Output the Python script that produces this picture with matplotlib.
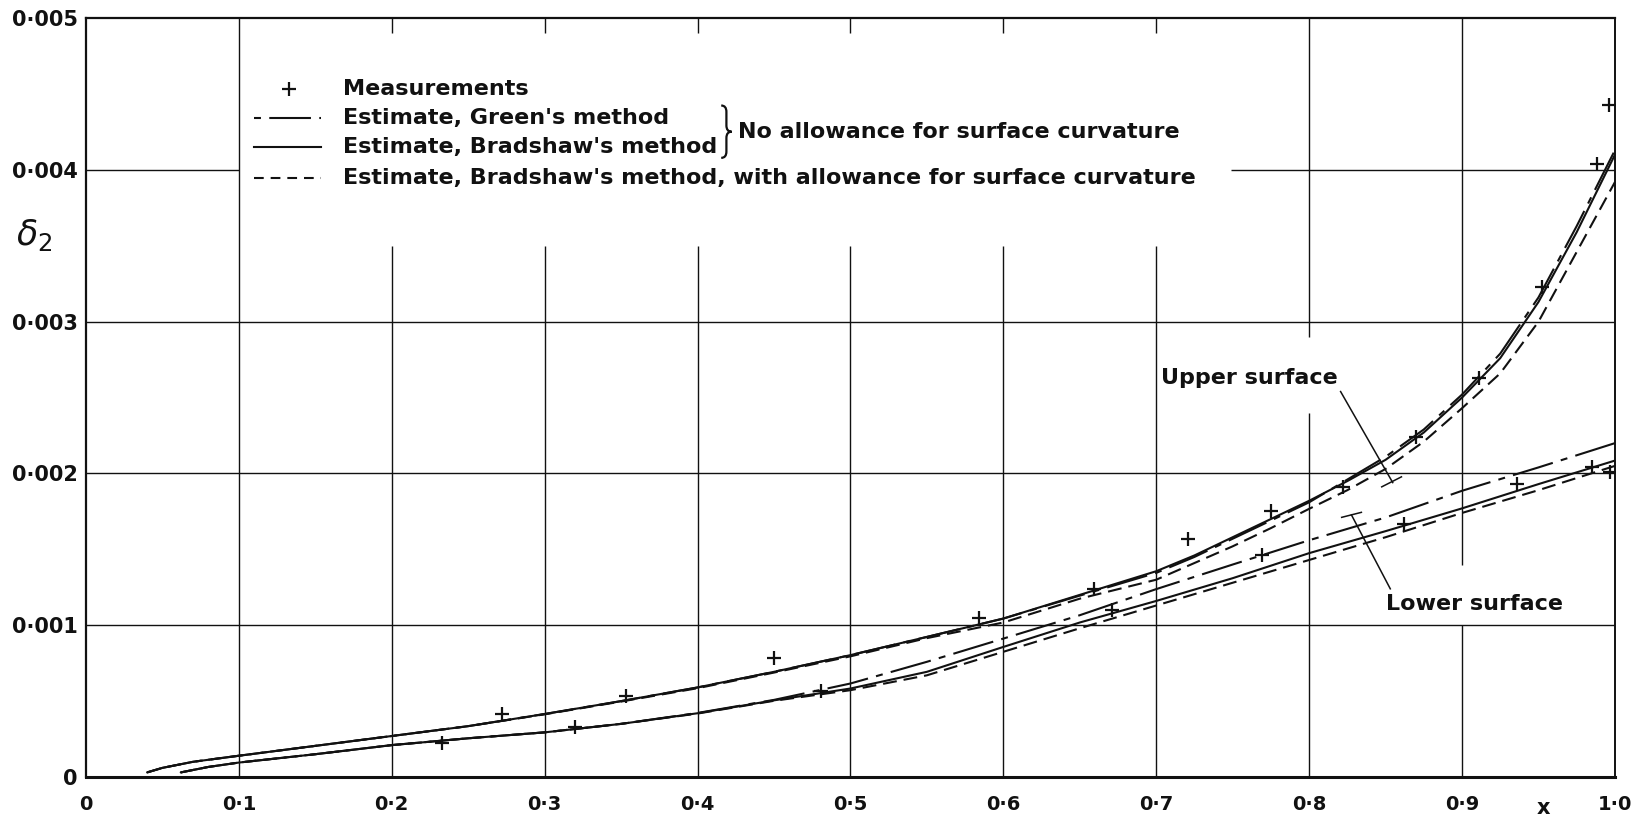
import matplotlib
matplotlib.use("Agg")
import matplotlib.pyplot as plt
from matplotlib.path import Path
from matplotlib.patches import PathPatch

plt.rcParams["font.family"] = ["DejaVu Sans"]
plt.rcParams["lines.scale_dashes"] = False
plt.rcParams["mathtext.fontset"] = "dejavusans"

# ---------------------------------------------------------------------------
# Momentum thickness delta_2 against chordwise position x
# ---------------------------------------------------------------------------

# Upper surface estimates
x_upper = [0.04, 0.05, 0.07, 0.10, 0.15, 0.20, 0.25, 0.30, 0.35, 0.40, 0.45,
           0.50, 0.55, 0.60, 0.65, 0.70, 0.725, 0.75, 0.775, 0.80, 0.825,
           0.85, 0.875, 0.90, 0.925, 0.95, 0.975, 1.00]
upper_green = [0.00003, 0.00006, 0.00010, 0.000140, 0.000205, 0.000270,
               0.000335, 0.000415, 0.000500, 0.000590, 0.000693, 0.000803,
               0.000923, 0.001044, 0.001195, 0.001345, 0.001450, 0.001570,
               0.001690, 0.001810, 0.001960, 0.002110, 0.002290, 0.002520,
               0.002790, 0.003160, 0.003630, 0.004130]
upper_bradshaw = [0.00003, 0.00006, 0.00010, 0.000140, 0.000205, 0.000270,
                  0.000335, 0.000415, 0.000500, 0.000590, 0.000693, 0.000803,
                  0.000923, 0.001044, 0.001200, 0.001356, 0.001460, 0.001580,
                  0.001700, 0.001820, 0.001950, 0.002090, 0.002270, 0.002500,
                  0.002760, 0.003130, 0.003590, 0.004100]
upper_curvature = [0.00003, 0.00006, 0.00010, 0.000140, 0.000205, 0.000270,
                   0.000335, 0.000413, 0.000497, 0.000585, 0.000688, 0.000795,
                   0.000915, 0.001018, 0.001175, 0.001300, 0.001410, 0.001520,
                   0.001640, 0.001767, 0.001890, 0.002030, 0.002210, 0.002430,
                   0.002660, 0.003000, 0.003460, 0.003920]

# Lower surface estimates
x_lower = [0.062, 0.08, 0.10, 0.15, 0.20, 0.25, 0.30, 0.35, 0.40, 0.45, 0.50,
           0.55, 0.60, 0.65, 0.70, 0.75, 0.80, 0.85, 0.90, 0.95, 1.00]
lower_green = [0.00003, 0.000066, 0.000095, 0.000150, 0.000210, 0.000255,
               0.000294, 0.000350, 0.000422, 0.000508, 0.000616, 0.000759,
               0.000912, 0.001066, 0.001238, 0.001400, 0.001560, 0.001710,
               0.001886, 0.002040, 0.002200]
lower_bradshaw = [0.00003, 0.000066, 0.000095, 0.000150, 0.000210, 0.000255,
                  0.000294, 0.000350, 0.000420, 0.000505, 0.000583, 0.000693,
                  0.000857, 0.001018, 0.001160, 0.001310, 0.001475, 0.001620,
                  0.001770, 0.001930, 0.002085]
lower_curvature = [0.00003, 0.000066, 0.000095, 0.000150, 0.000210, 0.000255,
                   0.000294, 0.000350, 0.000418, 0.000502, 0.000572, 0.000670,
                   0.000825, 0.000980, 0.001130, 0.001280, 0.001430, 0.001580,
                   0.001740, 0.001890, 0.002050]

# Measurements
meas_upper_x = [0.272, 0.353, 0.450, 0.584, 0.659, 0.721, 0.775, 0.822,
                0.870, 0.911, 0.952, 0.988, 0.996]
meas_upper_y = [0.000415, 0.000536, 0.000785, 0.00105, 0.00124, 0.00157,
                0.001756, 0.00191, 0.00224, 0.00263, 0.00323, 0.00404,
                0.00443]
meas_lower_x = [0.233, 0.320, 0.481, 0.671, 0.769, 0.862, 0.936, 0.985,
                0.997]
meas_lower_y = [0.000223, 0.000327, 0.000569, 0.00110, 0.001464, 0.00167,
                0.00193, 0.00204, 0.00201]

x_ticks = [0.0, 0.1, 0.2, 0.3, 0.4, 0.5, 0.6, 0.7, 0.8, 0.9, 1.0]
x_tick_labels = ["0", "0\u00b71", "0\u00b72", "0\u00b73", "0\u00b74", "0\u00b75",
                 "0\u00b76", "0\u00b77", "0\u00b78", "0\u00b79", "1\u00b70"]
y_ticks = [0.0, 0.001, 0.002, 0.003, 0.004, 0.005]
y_tick_labels = ["0", "0\u00b7001", "0\u00b7002", "0\u00b7003", "0\u00b7004",
                 "0\u00b7005"]

legend_labels = ["Measurements",
                 "Estimate, Green's method",
                 "Estimate, Bradshaw's method",
                 "Estimate, Bradshaw's method, with allowance for surface curvature"]
brace_label = "No allowance for surface curvature"

# ---------------------------------------------------------------------------
INK = "#111111"
GREEN_STYLE = dict(dashes=(30, 6, 5, 6))
CURV_STYLE = dict(dashes=(10, 5))
CURVE_LW = 1.5

fig = plt.figure(figsize=(16.46, 8.19), dpi=100)
ax = fig.add_axes([0.0522, 0.0513, 0.9289, 0.9264])
ax.set_xlim(0, 1.0)
ax.set_ylim(0, 0.005)

# Grid, drawn in pieces so that it stays clear of the lettering
grid_kw = dict(color=INK, lw=1.0, zorder=1)
ax.vlines(0.1, 0, 0.005, **grid_kw)
for gx in [0.2, 0.3, 0.4, 0.5, 0.6, 0.7]:
    ax.vlines(gx, 0.0049, 0.005, **grid_kw)
    ax.vlines(gx, 0.0, 0.0035, **grid_kw)
ax.vlines(0.8, 0.0029, 0.005, **grid_kw)
ax.vlines(0.8, 0.0, 0.0024, **grid_kw)
ax.vlines(0.9, 0.0014, 0.005, **grid_kw)
ax.vlines(0.9, 0.0, 0.001, **grid_kw)
for gy in [0.001, 0.002, 0.003]:
    ax.hlines(gy, 0, 1.0, **grid_kw)
ax.hlines(0.004, 0, 0.1, **grid_kw)
ax.hlines(0.004, 0.749, 1.0, **grid_kw)

# Estimated curves
for xs, g, b, c in [(x_upper, upper_green, upper_bradshaw, upper_curvature),
                    (x_lower, lower_green, lower_bradshaw, lower_curvature)]:
    ax.plot(xs, b, color=INK, lw=CURVE_LW, solid_capstyle="round",
            solid_joinstyle="round", zorder=3)
    ax.plot(xs, g, color=INK, lw=CURVE_LW, zorder=3, **GREEN_STYLE)
    ax.plot(xs, c, color=INK, lw=CURVE_LW, zorder=3, **CURV_STYLE)

# Measured points
marker_kw = dict(linestyle="none", marker="+", ms=10, mew=1.6, color=INK,
                 zorder=4)
ax.plot(meas_upper_x, meas_upper_y, **marker_kw)
ax.plot(meas_lower_x, meas_lower_y, **marker_kw)

# Axes frame and ticks
for side, lw in [("left", 1.6), ("bottom", 2.2), ("top", 1.6), ("right", 1.4)]:
    ax.spines[side].set_linewidth(lw)
    ax.spines[side].set_color(INK)
ax.set_xticks(x_ticks, x_tick_labels)
ax.set_yticks(y_ticks, y_tick_labels)
ax.tick_params(length=0, labelsize=14, colors=INK)
ax.tick_params(axis="x", pad=13)
ax.tick_params(axis="y", pad=6, labelsize=15)
for lab in ax.get_xticklabels() + ax.get_yticklabels():
    lab.set_fontweight("bold")

ax.text(0.953, -0.041, "x", transform=ax.transAxes, ha="center", va="center",
        fontsize=15, fontweight="bold", color=INK)
fig.text(0.021, 0.713, r"$\delta_2$", fontsize=25, ha="center", va="center",
         color=INK)

# Legend, lettered directly on the chart
TXT = 16
leg_x0, leg_x1, leg_tx = 0.110, 0.154, 0.168
rows = [0.907, 0.869, 0.830, 0.789]
ax.plot([0.1325], [rows[0]], transform=ax.transAxes, **marker_kw)
ax.plot([leg_x0, leg_x1], [rows[1]] * 2, transform=ax.transAxes, color=INK,
        lw=CURVE_LW, dashes=(5, 6, 30, 6))
ax.plot([leg_x0, leg_x1], [rows[2]] * 2, transform=ax.transAxes, color=INK,
        lw=CURVE_LW)
ax.plot([leg_x0, leg_x1], [rows[3]] * 2, transform=ax.transAxes, color=INK,
        lw=CURVE_LW, dashes=(7, 5))
for yy, lab in zip(rows, legend_labels):
    ax.text(leg_tx, yy, lab, transform=ax.transAxes, fontsize=TXT,
            fontweight="bold", va="center", ha="left", color=INK)

# Curly brace grouping the two "no allowance" entries
bx, bw = 0.4155, 0.0068
by0, by1 = 0.816, 0.885
bym = 0.5 * (by0 + by1)
bh = by1 - by0
verts = [(bx, by1), (bx + bw / 2, by1), (bx + bw / 2, by1 - 0.12 * bh),
         (bx + bw / 2, bym + 0.12 * bh),
         (bx + bw / 2, bym), (bx + bw, bym),
         (bx + bw / 2, bym), (bx + bw / 2, bym - 0.12 * bh),
         (bx + bw / 2, by0 + 0.12 * bh),
         (bx + bw / 2, by0), (bx, by0)]
codes = [Path.MOVETO, Path.CURVE3, Path.CURVE3, Path.LINETO,
         Path.CURVE3, Path.CURVE3, Path.CURVE3, Path.CURVE3, Path.LINETO,
         Path.CURVE3, Path.CURVE3]
ax.add_patch(PathPatch(Path(verts, codes), transform=ax.transAxes,
                       facecolor="none", edgecolor=INK, lw=1.6))
ax.text(0.4262, bym, brace_label, transform=ax.transAxes, fontsize=TXT,
        fontweight="bold", va="center", ha="left", color=INK)

# Surface labels with leader lines
ax.text(0.703, 0.00263, "Upper surface", fontsize=TXT, fontweight="bold",
        va="center", ha="left", color=INK)
ax.plot([0.8206, 0.8547], [0.00254, 0.00194], color=INK, lw=1.1)
ax.plot([0.8475, 0.8604], [0.001912, 0.001978], color=INK, lw=1.1)

ax.text(0.8501, 0.00114, "Lower surface", fontsize=TXT, fontweight="bold",
        va="center", ha="left", color=INK)
ax.plot([0.8531, 0.8277], [0.00124, 0.001727], color=INK, lw=1.1)
ax.plot([0.8213, 0.8342], [0.001711, 0.001744], color=INK, lw=1.1)

fig.savefig("out.png", dpi=100, facecolor="white")
